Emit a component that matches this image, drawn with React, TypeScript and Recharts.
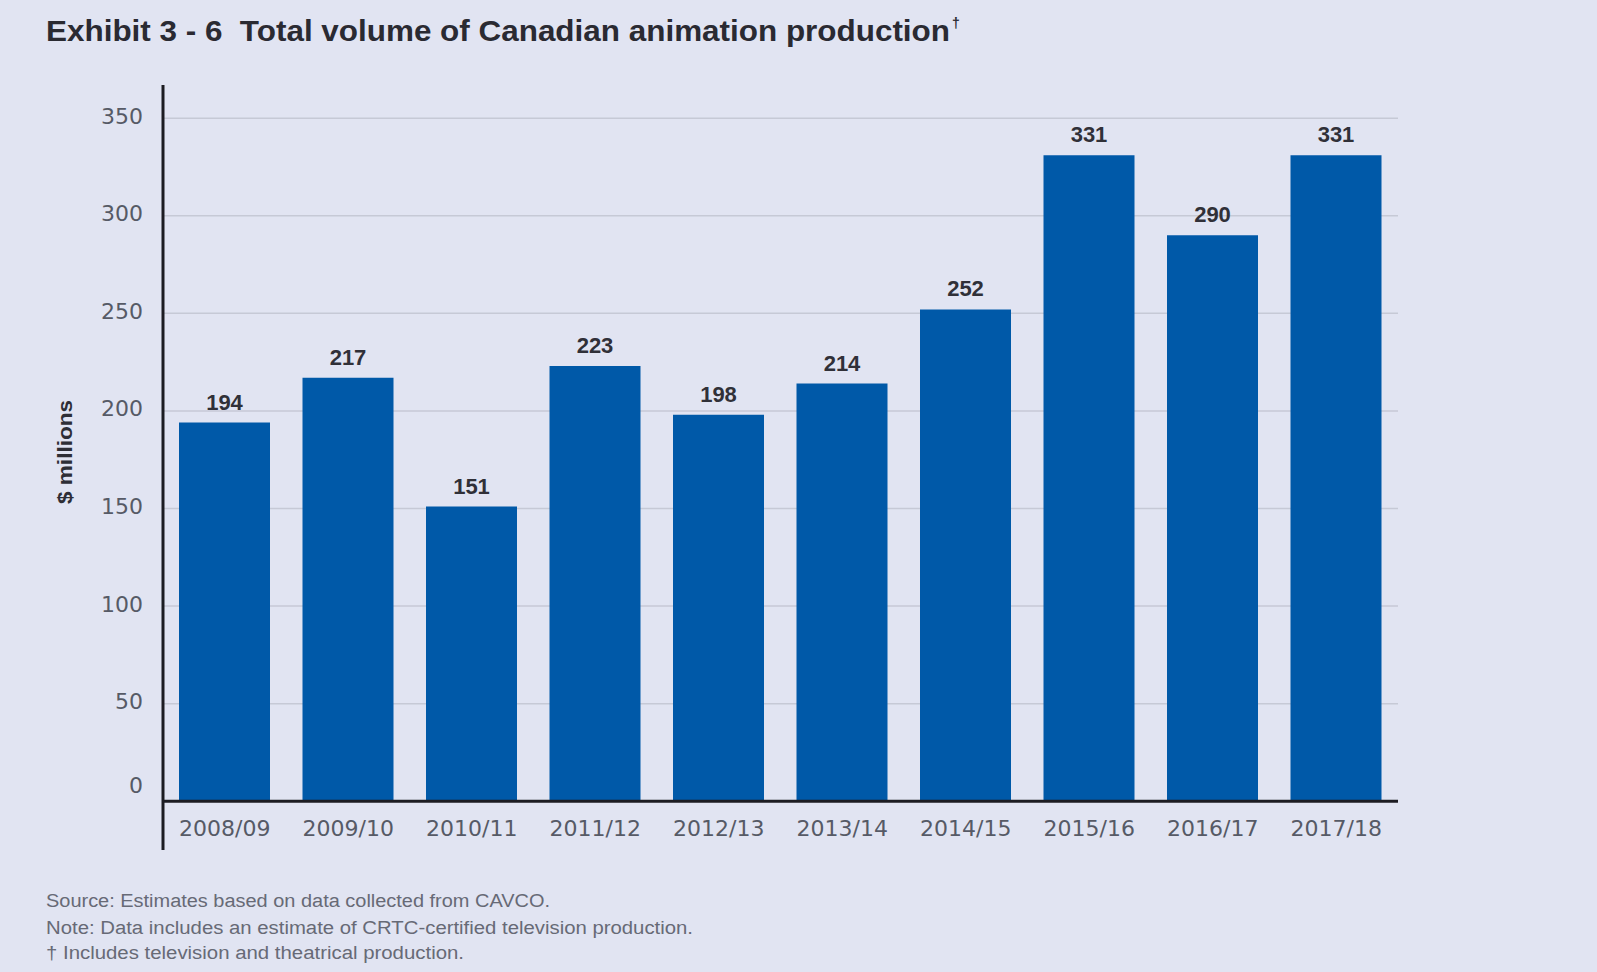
import React from "react";
import {
  BarChart,
  Bar,
  XAxis,
  YAxis,
  CartesianGrid,
  ReferenceLine,
  LabelList,
} from "recharts";

const categories = [
  "2008/09",
  "2009/10",
  "2010/11",
  "2011/12",
  "2012/13",
  "2013/14",
  "2014/15",
  "2015/16",
  "2016/17",
  "2017/18",
];
const volumes = [194, 217, 151, 223, 198, 214, 252, 331, 290, 331];
const yTicks = [0, 50, 100, 150, 200, 250, 300, 350];
const gridValues = [50, 100, 150, 200, 250, 300, 350];

const data = categories.map((c, i) => ({ year: c, value: volumes[i] }));

const BG = "#E1E4F2";
const BAR = "#0059A8";
const AXIS = "#1c1c22";
const GRID = "#C6C9D6";
const TICK = "#565a66";

const YTick = (props: any) => {
  const { x, y, payload } = props;
  const shift = payload.value === 0 ? -16 : -2;
  return (
    <text
      x={x}
      y={y + shift}
      textAnchor="end"
      dominantBaseline="central"
      fontFamily="DejaVu Sans, Verdana, sans-serif"
      fontSize={22}
      fill={TICK}
    >
      {payload.value}
    </text>
  );
};

const XTick = (props: any) => {
  const { x, y, payload } = props;
  return (
    <text
      x={x}
      y={y - 22}
      textAnchor="middle"
      dominantBaseline="central"
      fontFamily="DejaVu Sans, Verdana, sans-serif"
      fontSize={22}
      fill={TICK}
    >
      {payload.value}
    </text>
  );
};

export default function App() {
  return (
    <div
      style={{
        position: "absolute",
        left: 0,
        top: 0,
        width: 1597,
        height: 972,
        background: BG,
        overflow: "hidden",
      }}
    >
      <BarChart
        width={1597}
        height={972}
        data={data}
        margin={{ top: 85, right: 199, bottom: 92, left: 103 }}
      >
        <CartesianGrid
          vertical={false}
          stroke={GRID}
          strokeWidth={1.5}
          horizontalValues={gridValues}
        />
        <XAxis
          dataKey="year"
          height={30}
          axisLine={false}
          tickLine={false}
          tickSize={0}
          tickMargin={0}
          tick={<XTick />}
          interval={0}
        />
        <YAxis
          type="number"
          domain={[-25, 367]}
          ticks={yTicks}
          width={60}
          axisLine={{ stroke: AXIS, strokeWidth: 3 }}
          tickLine={false}
          tickSize={0}
          tickMargin={20}
          tick={<YTick />}
          allowDataOverflow
        />
        <ReferenceLine y={0} stroke={AXIS} strokeWidth={3} />
        <Bar dataKey="value" fill={BAR} barSize={91} isAnimationActive={false}>
          <LabelList
            dataKey="value"
            position="top"
            offset={13}
            fill="#303038"
            fontSize={22}
            fontWeight="bold"
            fontFamily="Liberation Sans, Arial, sans-serif"
          />
        </Bar>
      </BarChart>
      <svg
        width={1597}
        height={972}
        style={{ position: "absolute", left: 0, top: 0, pointerEvents: "none" }}
      >
        <text
          x={46}
          y={41}
          fontFamily="Liberation Sans Narrow, Liberation Sans, Arial, sans-serif"
          fontWeight="bold"
          fontSize={30}
          fill="#2a2a32"
          textLength={904}
          lengthAdjust="spacingAndGlyphs"
          style={{ whiteSpace: "pre" }}
        >
          {"Exhibit 3 - 6  Total volume of Canadian animation production"}
        </text>
        <text
          x={952}
          y={28}
          fontFamily="Liberation Sans, Arial, sans-serif"
          fontWeight="bold"
          fontSize={14}
          fill="#2a2a32"
        >
          †
        </text>
        <text
          transform="translate(72,452) rotate(-90)"
          textAnchor="middle"
          fontFamily="Liberation Sans, Arial, sans-serif"
          fontWeight="bold"
          fontSize={21}
          fill="#2e2e36"
          textLength={104}
          lengthAdjust="spacingAndGlyphs"
        >
          $ millions
        </text>
        <text
          x={46}
          y={907}
          fontFamily="Liberation Sans Narrow, Liberation Sans, Arial, sans-serif"
          fontSize={18}
          fill="#676a76"
          textLength={504}
          lengthAdjust="spacingAndGlyphs"
        >
          Source: Estimates based on data collected from CAVCO.
        </text>
        <text
          x={46}
          y={934}
          fontFamily="Liberation Sans Narrow, Liberation Sans, Arial, sans-serif"
          fontSize={18}
          fill="#676a76"
          textLength={647}
          lengthAdjust="spacingAndGlyphs"
        >
          Note: Data includes an estimate of CRTC-certified television production.
        </text>
        <text
          x={46}
          y={959}
          fontFamily="Liberation Sans Narrow, Liberation Sans, Arial, sans-serif"
          fontSize={18}
          fill="#676a76"
          textLength={418}
          lengthAdjust="spacingAndGlyphs"
        >
          † Includes television and theatrical production.
        </text>
      </svg>
    </div>
  );
}
